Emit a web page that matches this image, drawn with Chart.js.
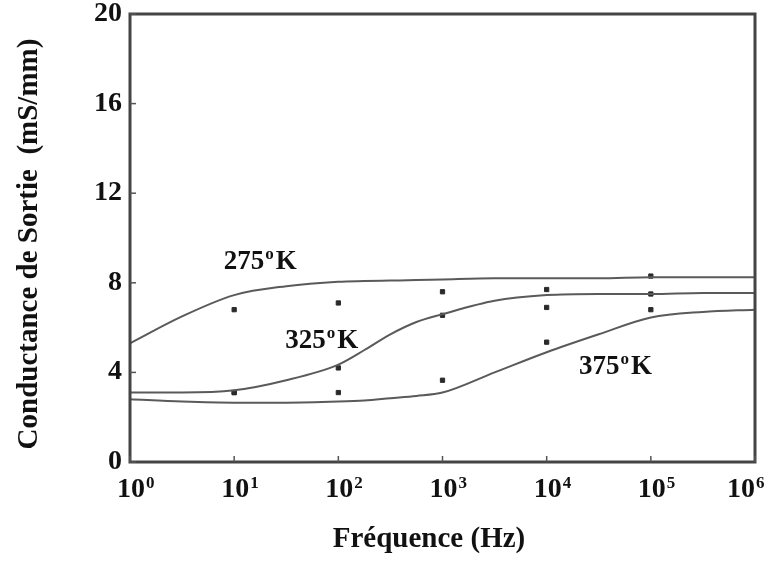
<!DOCTYPE html>
<html>
<head>
<meta charset="utf-8">
<script src="https://cdn.jsdelivr.net/npm/chart.js@4/dist/chart.umd.min.js"></script>
<style>
  html, body { margin: 0; padding: 0; background: #fff; }
  canvas { display: block; }
</style>
</head>
<body>
<canvas id="cond" width="779" height="561"></canvas>
<script>
// frequencies (Hz) where the fitted curves are read
var curveFreq = [1, 3.16, 10, 31.6, 100, 178, 316, 562, 1000, 3162, 10000, 31623, 100000, 316228, 1000000];
var curve275 = [5.3, 6.5, 7.45, 7.85, 8.05, 8.08, 8.1, 8.12, 8.15, 8.2, 8.2, 8.2, 8.25, 8.25, 8.25];
var curve325 = [3.1, 3.1, 3.2, 3.65, 4.35, 5.0, 5.7, 6.25, 6.6, 7.2, 7.45, 7.5, 7.5, 7.55, 7.55];
var curve375 = [2.8, 2.7, 2.65, 2.65, 2.7, 2.75, 2.85, 2.95, 3.1, 4.0, 4.9, 5.7, 6.45, 6.7, 6.8];

// measured points
var pointFreq = [10, 100, 1000, 10000, 100000];
var pts275 = [6.8, 7.1, 7.6, 7.7, 8.3];
var pts325 = [3.1, 4.2, 6.55, 6.9, 7.5];
var pts375 = [3.1, 3.1, 3.65, 5.35, 6.8];

var decades = [0, 1, 2, 3, 4, 5, 6];
var yTicks = [0, 4, 8, 12, 16, 20];

var curveLabels = [
  { text: '275', x: Math.pow(10, 1.25), y: 9.0 },
  { text: '325', x: Math.pow(10, 1.84), y: 5.5 },
  { text: '375', x: Math.pow(10, 4.66), y: 4.35 }
];

var serif = '"Liberation Serif", "DejaVu Serif", serif';

function pairs(xs, ys) {
  return xs.map(function (x, i) { return { x: x, y: ys[i] }; });
}

function curveSet(ys) {
  return {
    type: 'line',
    data: pairs(curveFreq, ys),
    borderColor: '#5a5a5a',
    borderWidth: 2,
    pointRadius: 0,
    cubicInterpolationMode: 'monotone',
    fill: false
  };
}

function pointSet(ys) {
  return {
    type: 'scatter',
    data: pairs(pointFreq, ys),
    backgroundColor: '#2a2a2a',
    borderColor: '#2a2a2a',
    pointStyle: 'rect',
    pointRadius: 3
  };
}

// frame, ticks, tick labels with exponents, curve labels
var decorPlugin = {
  id: 'decor',
  afterDraw: function (chart) {
    var ctx = chart.ctx;
    var a = chart.chartArea;
    var xs = chart.scales.x, ys = chart.scales.y;
    ctx.save();

    ctx.strokeStyle = '#444';
    ctx.lineWidth = 3;
    ctx.strokeRect(a.left, a.top, a.right - a.left, a.bottom - a.top);

    ctx.lineWidth = 1.5;
    ctx.strokeStyle = '#555';
    yTicks.forEach(function (v) {
      var py = ys.getPixelForValue(v);
      ctx.beginPath(); ctx.moveTo(a.left, py); ctx.lineTo(a.left + 6, py); ctx.stroke();
    });
    decades.forEach(function (d) {
      var px = xs.getPixelForValue(Math.pow(10, d));
      ctx.beginPath(); ctx.moveTo(px, a.bottom); ctx.lineTo(px, a.bottom - 6); ctx.stroke();
    });

    ctx.fillStyle = '#111';
    ctx.font = 'bold 28px ' + serif;
    ctx.textAlign = 'right';
    ctx.textBaseline = 'alphabetic';
    yTicks.forEach(function (v) {
      ctx.fillText(String(v), a.left - 8, ys.getPixelForValue(v) + 7);
    });

    decades.forEach(function (d, i) {
      var px = xs.getPixelForValue(Math.pow(10, d));
      if (i === decades.length - 1) px -= 15; // last one sits left of its tick
      ctx.font = 'bold 28px ' + serif;
      var w = ctx.measureText('10').width;
      ctx.textAlign = 'left';
      ctx.fillText('10', px - w / 2 + 1, a.bottom + 35);
      ctx.font = 'bold 17px ' + serif;
      ctx.fillText(String(d), px + w / 2 + 2, a.bottom + 26);
    });

    ctx.font = 'bold 29px ' + serif;
    ctx.textAlign = 'center';
    ctx.fillText('Fréquence (Hz)', 429, 547);

    ctx.save();
    ctx.translate(37, 244);
    ctx.rotate(-Math.PI / 2);
    ctx.fillText('Conductance de Sortie  (mS/mm)', 0, 0);
    ctx.restore();

    curveLabels.forEach(function (c) {
      var px = xs.getPixelForValue(c.x), py = ys.getPixelForValue(c.y);
      ctx.font = 'bold 27px ' + serif;
      var w1 = ctx.measureText(c.text).width;
      ctx.font = 'bold 17px ' + serif;
      var w2 = ctx.measureText('o').width;
      ctx.font = 'bold 27px ' + serif;
      var w3 = ctx.measureText('K').width;
      var x0 = px - (w1 + w2 + w3 + 3) / 2;
      ctx.textAlign = 'left';
      ctx.fillText(c.text, x0, py + 9);
      ctx.font = 'bold 17px ' + serif;
      ctx.fillText('o', x0 + w1 + 1, py - 1);
      ctx.font = 'bold 27px ' + serif;
      ctx.fillText('K', x0 + w1 + w2 + 3, py + 9);
    });

    ctx.restore();
  }
};

new Chart(document.getElementById('cond').getContext('2d'), {
  data: {
    datasets: [
      curveSet(curve275), curveSet(curve325), curveSet(curve375),
      pointSet(pts275), pointSet(pts325), pointSet(pts375)
    ]
  },
  options: {
    responsive: false,
    animation: false,
    layout: { padding: { top: 14, right: 24, left: 0, bottom: 0 } },
    plugins: { legend: { display: false }, tooltip: { enabled: false } },
    scales: {
      x: {
        type: 'logarithmic',
        min: 1,
        max: 1000000,
        grid: { display: false },
        border: { display: false },
        ticks: { display: false },
        afterFit: function (s) { s.height = 99; }
      },
      y: {
        min: 0,
        max: 20,
        grid: { display: false },
        border: { display: false },
        ticks: { display: false, stepSize: 4 },
        afterFit: function (s) { s.width = 130; }
      }
    }
  },
  plugins: [decorPlugin]
});
</script>
</body>
</html>
